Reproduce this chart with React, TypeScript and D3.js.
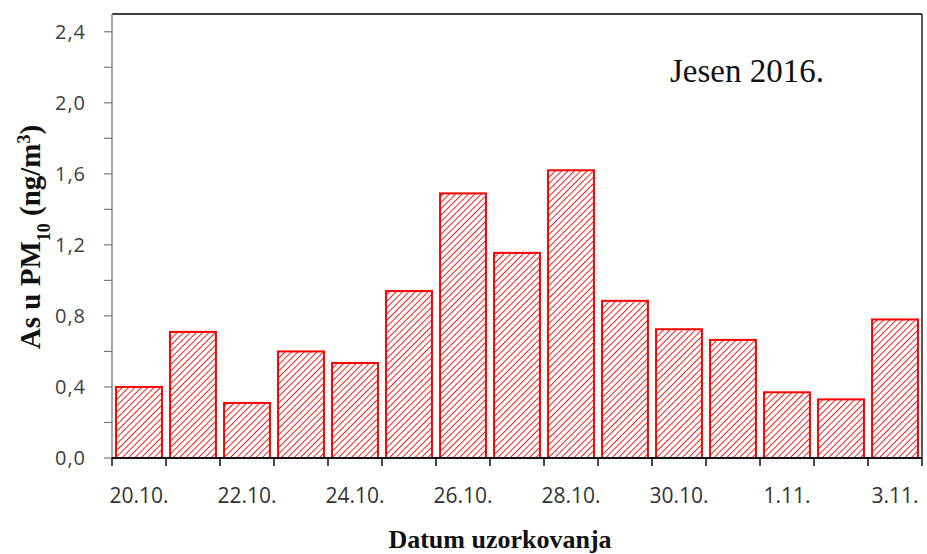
import React from 'react';
import * as d3 from 'd3';

// sampling dates (autumn 2016)
const dates = ['20.10.', '21.10.', '22.10.', '23.10.', '24.10.', '25.10.', '26.10.', '27.10.',
    '28.10.', '29.10.', '30.10.', '31.10.', '1.11.', '2.11.', '3.11.'];
// As in PM10, ng/m3
const asValues = [0.40, 0.71, 0.31, 0.60, 0.535, 0.94, 1.49, 1.155, 1.62, 0.885, 0.725, 0.665, 0.37, 0.33, 0.78];
const yTicks = [0, 0.4, 0.8, 1.2, 1.6, 2.0, 2.4];
const yMinorTicks = [0.2, 0.6, 1.0, 1.4, 1.8, 2.2];
const labelledDates = ['20.10.', '22.10.', '24.10.', '26.10.', '28.10.', '30.10.', '1.11.', '3.11.'];

function App() {
    const width = 927;
    const height = 554;
    const margin = { top: 14, right: 5, bottom: 96, left: 112 };
    const x0 = margin.left;
    const x1 = width - margin.right;
    const y0 = height - margin.bottom;
    const y1 = margin.top;

    const x = d3.scaleBand()
        .domain(dates)
        .range([x0, x1])
        .paddingInner(0.15)
        .paddingOuter(0.075);

    const y = d3.scaleLinear()
        .domain([0, 2.5])
        .range([y0, y1]);

    const step = x.step();
    // category boundaries for the x tick marks
    const xTickPos = d3.range(dates.length + 1).map((i) => x0 + i * step);

    const fmt = (v: number) => v.toFixed(1).replace('.', ',');
    const red = '#ff0000';

    return (
        <>
            <style>{'body{margin:0}'}</style>
            <svg width={width} height={height} style={{ display: 'block', background: '#fff' }}>
                <defs>
                    <pattern id="hatch" width={4.5} height={4.5} patternUnits="userSpaceOnUse"
                        patternTransform="rotate(45)">
                        <line x1={0} y1={0} x2={0} y2={4.5} stroke={red} strokeWidth={1.7} />
                    </pattern>
                </defs>

                {/* frame: top and right */}
                <line x1={x0} y1={y1} x2={x1} y2={y1} stroke="#000" strokeWidth={1.5} />
                <line x1={x1} y1={y1} x2={x1} y2={y0} stroke="#222" strokeWidth={1.5} />

                {/* bars */}
                {dates.map((d, i) => (
                    <rect key={d}
                        x={x(d)}
                        y={y(asValues[i])}
                        width={x.bandwidth()}
                        height={y0 - y(asValues[i])}
                        fill="url(#hatch)"
                        stroke={red}
                        strokeWidth={2} />
                ))}

                {/* y axis */}
                <line x1={x0} y1={y1} x2={x0} y2={y0} stroke="#888" strokeWidth={1.5} />
                {yTicks.concat(yMinorTicks).map((t) => (
                    <line key={'t' + t} x1={x0 - 8} x2={x0} y1={y(t)} y2={y(t)} stroke="#777" strokeWidth={1.2} />
                ))}
                {yTicks.map((t) => (
                    <text key={'l' + t} x={86} y={y(t)} dy="0.36em" textAnchor="end"
                        fontFamily="'Open Sans', sans-serif" fontSize={20} fill="#404040"
                        letterSpacing={1}>
                        {fmt(t)}
                    </text>
                ))}

                {/* x axis */}
                <line x1={x0} y1={y0} x2={x1} y2={y0} stroke="#111" strokeWidth={2} />
                {xTickPos.map((p, i) => (
                    <line key={'xt' + i} x1={p} x2={p} y1={y0} y2={y0 + 8} stroke="#111" strokeWidth={1.5} />
                ))}
                {labelledDates.map((d) => (
                    <text key={'xl' + d} x={(x(d) as number) + x.bandwidth() / 2} y={503} textAnchor="middle"
                        fontFamily="'Open Sans', sans-serif" fontSize={21} fill="#333">
                        {d}
                    </text>
                ))}

                {/* axis titles */}
                <text x={500} y={548} textAnchor="middle" fontFamily="'Liberation Serif', serif"
                    fontWeight="bold" fontSize={26} fill="#111">
                    Datum uzorkovanja
                </text>
                <text transform="translate(40, 237) rotate(-90)" textAnchor="middle"
                    fontFamily="'Liberation Serif', serif" fontWeight="bold" fontSize={29} fill="#111">
                    As u PM<tspan baselineShift="sub" fontSize={18}>10</tspan>
                    <tspan> (ng/m</tspan><tspan baselineShift="super" fontSize={18}>3</tspan>
                    <tspan>)</tspan>
                </text>

                {/* season label */}
                <text x={670} y={82} fontFamily="'Liberation Serif', serif" fontSize={33} fill="#111">
                    Jesen 2016.
                </text>
            </svg>
        </>
    );
}

export default App;
